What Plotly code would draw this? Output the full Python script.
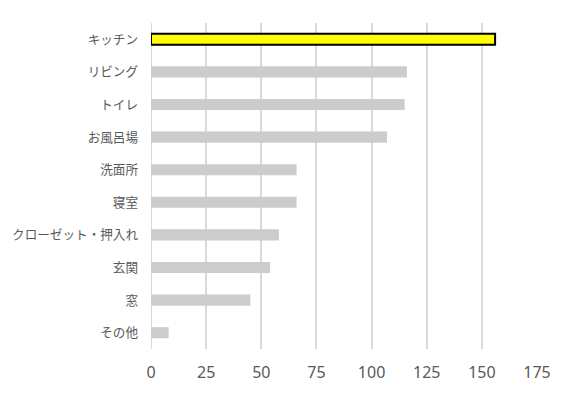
import plotly.graph_objects as go

categories = ["キッチン", "リビング", "トイレ", "お風呂場", "洗面所", "寝室",
              "クローゼット・押入れ", "玄関", "窓", "その他"]
values = [156, 116, 115, 107, 66, 66, 58, 54, 45, 8]
highlight = "キッチン"
x_ticks = [0, 25, 50, 75, 100, 125, 150, 175]

colors = ["#FFFF00" if c == highlight else "#CCCCCC" for c in categories]
line_w = [2 if c == highlight else 0 for c in categories]

fig = go.Figure(go.Bar(
    x=values, y=categories, orientation="h",
    marker=dict(color=colors, line=dict(color="#000000", width=line_w)),
    width=0.34,
))

fig.update_layout(
    width=575, height=398,
    margin=dict(l=151, r=38, t=23, b=49),
    paper_bgcolor="white", plot_bgcolor="white",
    showlegend=False,
    xaxis=dict(
        range=[0, 175], tickvals=x_ticks, showgrid=True, gridcolor="#D9D9D9",
        gridwidth=2, zeroline=False, showline=False, ticks="", automargin=False,
        tickfont=dict(family="Noto Sans", size=16, color="#595959"),
        ticklabelstandoff=12, fixedrange=True,
    ),
    yaxis=dict(
        autorange="reversed", showgrid=False, zeroline=False, showline=False,
        ticks="", automargin=False,
        tickfont=dict(family="Noto Sans CJK JP", size=12.6, color="#595959"),
        ticklabelstandoff=12, fixedrange=True,
    ),
)
fig.add_shape(type="line", xref="x", yref="paper", x0=0, x1=0, y0=0, y1=1,
              line=dict(color="#D9D9D9", width=2), layer="below")

fig.write_html("out.html", config={"displayModeBar": False},
               post_script="document.body.style.margin='0';")
